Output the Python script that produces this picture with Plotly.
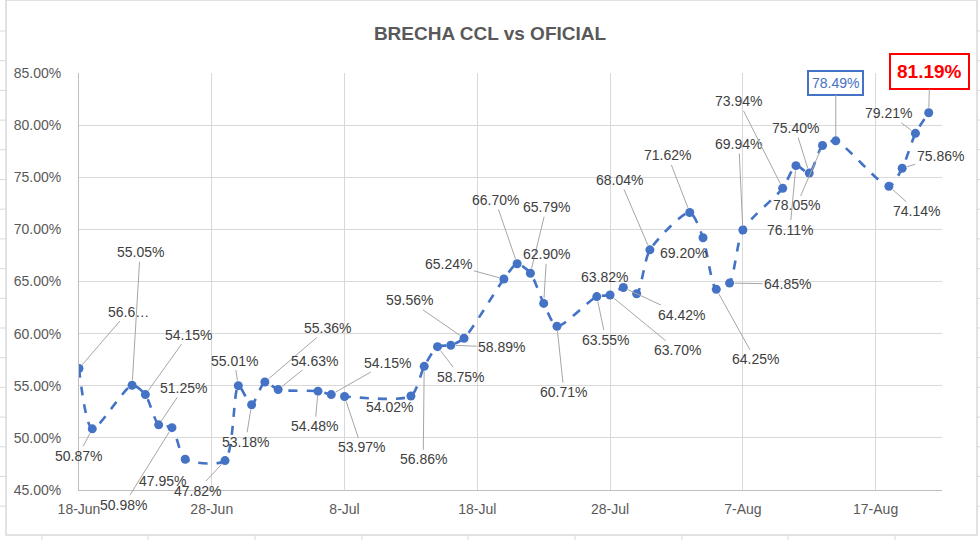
import plotly.graph_objects as go
import pandas as pd

# ---- data ----
dates = ["2020-06-18", "2020-06-19", "2020-06-22", "2020-06-23", "2020-06-24", "2020-06-25",
         "2020-06-26", "2020-06-29", "2020-06-30", "2020-07-01", "2020-07-02", "2020-07-03",
         "2020-07-06", "2020-07-07", "2020-07-08", "2020-07-13", "2020-07-14", "2020-07-15",
         "2020-07-16", "2020-07-17", "2020-07-20", "2020-07-21", "2020-07-22", "2020-07-23",
         "2020-07-24", "2020-07-27", "2020-07-28", "2020-07-29", "2020-07-30", "2020-07-31",
         "2020-08-03", "2020-08-04", "2020-08-05", "2020-08-06", "2020-08-07", "2020-08-10",
         "2020-08-11", "2020-08-12", "2020-08-13", "2020-08-14", "2020-08-18", "2020-08-19",
         "2020-08-20", "2020-08-21"]
brecha = [56.65, 50.87, 55.05, 54.15, 51.25, 50.98,
          47.95, 47.82, 55.01, 53.18, 55.36, 54.63,
          54.48, 54.15, 53.97, 54.02, 56.86, 58.75,
          58.89, 59.56, 65.24, 66.70, 65.79, 62.90,
          60.71, 63.55, 63.70, 64.42, 63.82, 68.04,
          71.62, 69.20, 64.25, 64.85, 69.94, 73.94,
          76.11, 75.40, 78.05, 78.49, 74.14, 75.86,
          79.21, 81.19]
labels = [f"{v:.2f}%" for v in brecha]
labels[0] = "56.6…"
y_ticks = [45, 50, 55, 60, 65, 70, 75, 80, 85]
x_ticks = ["2020-06-18", "2020-06-28", "2020-07-08", "2020-07-18", "2020-07-28", "2020-08-07", "2020-08-17"]
x_tick_text = ["18-Jun", "28-Jun", "8-Jul", "18-Jul", "28-Jul", "7-Aug", "17-Aug"]

# ---- label layout (pixel offsets of each label from its point, leader line on/off) ----
label_offsets = [(49, -57), (-14, 27), (8, -133), (43, -60), (25, -37), (-48, 77),
                 (-23, 22), (-28, 30), (-4, -25), (-6, 37), (63, -54), (36, -29),
                 (-3, 35), (56, -32), (17, 51), (-21, 11), (-1, 93), (23, 30),
                 (51, 2), (-55, -38), (-55, -15), (-22, -64), (16, -66), (3, -49),
                 (7, 66), (9, 43), (67, 55), (58, 27), (-32, -17), (-30, -70),
                 (-22, -57), (-20, 15), (39, 70), (58, 1), (-4, -86), (-44, -87),
                 (-6, 64), (-14, -45), (-26, 60), (0, -58), (28, 25), (38, -12),
                 (-27, -20), (1, -41)]
no_leader = {6, 15, 28, 31}

BLUE = "#4472C4"
LBL = "Liberation Sans, Arial, sans-serif"

fig = go.Figure()
fig.add_trace(go.Scatter(
    x=pd.to_datetime(dates), y=brecha, mode="lines+markers",
    line=dict(color=BLUE, width=2.6, dash="dash", shape="spline", smoothing=0.7),
    marker=dict(color=BLUE, size=9),
    hoverinfo="skip", showlegend=False,
))

annotations = []
n = len(brecha)
for i, (d, v, t, (ox, oy)) in enumerate(zip(dates, brecha, labels, label_offsets)):
    a = dict(x=d, y=v, xref="x", yref="y", text=t, showarrow=True,
             ax=ox, ay=oy, arrowhead=0, arrowwidth=1, arrowcolor="#A6A6A6", standoff=5,
             font=dict(family=LBL, size=14, color="#404040"))
    if i in no_leader:
        a["arrowcolor"] = "rgba(0,0,0,0)"
    if i == n - 5:  # 78.49% highlighted
        a.update(font=dict(family=LBL, size=14, color=BLUE), bordercolor=BLUE,
                 borderwidth=2, borderpad=3, bgcolor="white")
    if i == n - 1:  # 81.19% highlighted
        a.update(font=dict(family=LBL, size=19, color="#FF0000"),
                 bordercolor="#FF0000", borderwidth=2, borderpad=6, bgcolor="white")
        a["text"] = "<b>" + t + "</b>"
    annotations.append(a)

fig.update_layout(
    width=980, height=540,
    margin=dict(l=79, r=38, t=73, b=50),
    paper_bgcolor="white", plot_bgcolor="white",
    title=dict(text="<b>BRECHA CCL vs OFICIAL</b>", x=0.5, xanchor="center",
               y=1 - 33 / 540, yanchor="middle",
               font=dict(family=LBL, size=19, color="#595959")),
    xaxis=dict(type="date", range=["2020-06-18", "2020-08-22"],
               tickvals=pd.to_datetime(x_ticks), ticktext=x_tick_text,
               showgrid=True, gridcolor="#D9D9D9", gridwidth=1,
               showline=True, linecolor="#BFBFBF", linewidth=1,
               ticks="", ticklabelstandoff=6,
               tickfont=dict(family=LBL, size=14, color="#595959"),
               zeroline=False, fixedrange=True),
    yaxis=dict(range=[45, 85], tickvals=y_ticks,
               ticktext=[f"{v:.2f}%" for v in y_ticks],
               showgrid=True, gridcolor="#D9D9D9", gridwidth=1,
               showline=True, linecolor="#BFBFBF", linewidth=1,
               ticks="", ticklabelstandoff=14,
               tickfont=dict(family=LBL, size=14, color="#595959"),
               zeroline=False, fixedrange=True),
    annotations=annotations,
)

# chart frame and worksheet cell lines around it
L, R, T, B = 79, 942, 73, 490
def px(x):
    return (x - L) / (R - L)
def py(y):
    return (B - y) / (B - T)
shapes = [dict(type="rect", xref="paper", yref="paper", x0=px(6), x1=px(977), y0=py(535), y1=py(0),
               line=dict(color="#D9D9D9", width=1.5), layer="below")]
yy = 31
while yy < 535:
    shapes.append(dict(type="line", xref="paper", yref="paper", x0=px(0), x1=px(6), y0=py(yy), y1=py(yy),
                       line=dict(color="#D9D9D9", width=1)))
    shapes.append(dict(type="line", xref="paper", yref="paper", x0=px(977), x1=px(980), y0=py(yy), y1=py(yy),
                       line=dict(color="#D9D9D9", width=1)))
    yy += 29.7
for xx in [42, 148, 255, 362, 468, 575, 682, 788, 895]:
    shapes.append(dict(type="line", xref="paper", yref="paper", x0=px(xx), x1=px(xx), y0=py(535), y1=py(540),
                       line=dict(color="#D9D9D9", width=1)))
fig.update_layout(shapes=shapes)

fig.write_html("out.html")
